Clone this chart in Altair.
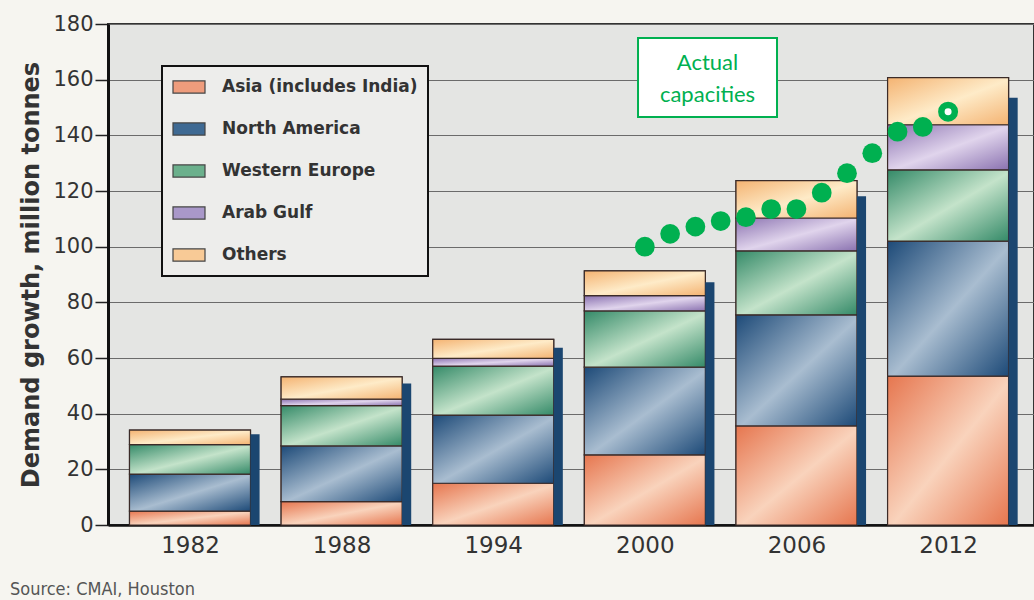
import altair as alt
import pandas as pd

# Demand growth by region, million tonnes
years = [1982, 1988, 1994, 2000, 2006, 2012]
asia = [5.0, 8.4, 15.0, 25.2, 35.6, 53.5]
north_america = [13.3, 20.0, 24.5, 31.5, 39.9, 48.5]
western_europe = [10.6, 14.5, 17.6, 20.2, 23.0, 25.6]
arab_gulf = [0.0, 2.3, 2.8, 5.5, 11.8, 16.2]
others = [5.2, 8.0, 6.8, 8.9, 13.4, 16.9]

regions = ["Asia (includes India)", "North America", "Western Europe", "Arab Gulf", "Others"]
series = [asia, north_america, western_europe, arab_gulf, others]

# Actual capacities, million tonnes (last point shown open)
cap_years = [2000, 2001, 2002, 2003, 2004, 2005, 2006, 2007, 2008, 2009, 2010, 2011, 2012]
cap_values = [100.0, 104.6, 107.2, 109.2, 110.6, 113.5, 113.5, 119.4, 126.4, 133.6, 141.3, 143.0, 148.5]

source_note = "Source: CMAI, Houston"

# --- styles ---
flat_colors = ["#ee9c7c", "#3f6a93", "#6bb08c", "#a998c9", "#f8ca96"]
shades = {
    "Asia (includes India)": ("#e6764f", "#f9d3bc"),
    "North America": ("#1d4a78", "#a9bdd0"),
    "Western Europe": ("#348a68", "#c4e3ca"),
    "Arab Gulf": ("#8a72b0", "#e0d4ec"),
    "Others": ("#f4b372", "#feebc8"),
}
outline = "#3b2b28"
half_bar = 2.394      # half bar width, in years
shadow_w = 0.36       # drop shadow width, in years
green = "#00b050"

rows = []
for r_i, (name, vals) in enumerate(zip(regions, series)):
    for y, v in zip(years, vals):
        rows.append({"year": y, "region": name, "order": r_i, "value": v})
df = pd.DataFrame(rows)
cap_df = pd.DataFrame({"year": cap_years, "capacity": cap_values})

x_scale = alt.Scale(domain=[1978.755, 2015.4], nice=False, zero=False)
y_scale = alt.Scale(domain=[0, 180], nice=False)

base = (
    alt.Chart(df)
    .transform_stack(stack="value", groupby=["year"], sort=[alt.SortField("order")], as_=["y0", "y1"])
    .transform_calculate(xl=f"datum.year - {half_bar}", xr=f"datum.year + {half_bar}")
    .transform_filter("datum.value > 0")
)

flat = base.mark_bar(stroke=outline, strokeWidth=1.2).encode(
    x=alt.X("xl:Q", scale=x_scale,
            axis=alt.Axis(values=years, format="d", title=None, grid=False, ticks=False,
                          labelFontSize=23, labelPadding=9, labelFont="DejaVu Sans",
                          labelColor="#333333", domainColor="#111111", domainWidth=2.5)),
    x2="xr:Q",
    y=alt.Y("y0:Q", scale=y_scale,
            axis=alt.Axis(values=list(range(0, 181, 20)), title="Demand growth, million tonnes",
                          grid=True, gridColor="#6b6b6b", gridWidth=1.2,
                          tickSize=13, tickWidth=1.5, tickColor="#222222",
                          labelFontSize=21, labelFont="DejaVu Sans", labelColor="#333333",
                          labelPadding=2, domainColor="#111111", domainWidth=3,
                          titleFont="DejaVu Sans", titleFontSize=24, titleFontWeight="bold",
                          titleColor="#333333", titlePadding=9)),
    y2="y1:Q",
    color=alt.Color("region:N", scale=alt.Scale(domain=regions, range=flat_colors),
                    legend=alt.Legend(title=None, orient="none", legendX=54, legendY=42)),
)

gradient_layers = []
for name in regions:
    dark, light = shades[name]
    grad = alt.LinearGradient(
        gradient="linear",
        stops=[alt.GradientStop(color=dark, offset=0),
               alt.GradientStop(color=light, offset=0.52),
               alt.GradientStop(color=dark, offset=1)],
        x1=0, y1=0, x2=1, y2=1,
    )
    gradient_layers.append(
        base.transform_filter(alt.datum.region == name)
        .mark_bar(fill=grad, stroke=outline, strokeWidth=1.2)
        .encode(x="xl:Q", x2="xr:Q", y="y0:Q", y2="y1:Q")
    )

shadow = (
    alt.Chart(df)
    .transform_aggregate(total="sum(value)", groupby=["year"])
    .transform_calculate(
        top="datum.total * 0.955",
        sx=f"datum.year + {half_bar}",
        sx2=f"datum.year + {half_bar + shadow_w}",
    )
    .mark_rect(color="#1b4670")
    .encode(x="sx:Q", x2="sx2:Q", y=alt.Y("top:Q"), y2=alt.datum(0))
)

dots = (
    alt.Chart(cap_df)
    .transform_filter("datum.year < 2012")
    .mark_circle(color=green, opacity=1, size=390)
    .encode(x="year:Q", y="capacity:Q")
)
ring = (
    alt.Chart(cap_df)
    .transform_filter("datum.year == 2012")
    .mark_point(shape="circle", fill="white", filled=False, stroke=green,
                strokeWidth=6.5, size=182, opacity=1)
    .encode(x="year:Q", y="capacity:Q")
)

note_df = pd.DataFrame({"x1": [1999.73], "x2": [2005.23], "y1": [146.6], "y2": [175.0],
                        "xm": [2002.48], "ym": [166.0], "label": ["Actual\ncapacities"]})
note_box = alt.Chart(note_df).mark_rect(fill="white", stroke=green, strokeWidth=2).encode(
    x="x1:Q", x2="x2:Q", y="y1:Q", y2="y2:Q")
note_text = alt.Chart(note_df).mark_text(
    color=green, font="Lato", fontSize=22, lineBreak="\n", lineHeight=32,
    align="center", baseline="middle").encode(x="xm:Q", y="ym:Q", text="label:N")

source = alt.Chart(pd.DataFrame({"t": [source_note]})).mark_text(
    align="left", baseline="middle", font="Liberation Sans Narrow, DejaVu Sans Condensed, sans-serif",
    fontSize=18, color="#555555").encode(x=alt.value(-98), y=alt.value(566), text="t:N")

chart = (
    alt.layer(flat, *gradient_layers, shadow, dots, ring, note_box, note_text, source)
    .properties(width=926, height=501,
                autosize=alt.AutoSizeParams(type="none"),
                padding={"left": 108, "top": 24, "right": 0, "bottom": 75},
                background="#f6f5f0")
    .configure_view(fill="#e4e5e3", stroke="#333333", strokeWidth=2)
    .configure_legend(
        padding=10, fillColor="#ededeb", strokeColor="#111111", strokeWidth=2,
        labelFont="DejaVu Sans", labelFontSize=17, labelFontWeight="bold", labelColor="#333333",
        labelOffset=16, labelLimit=320, symbolType="M-1,-0.38H1V0.38H-1Z", symbolSize=1024,
        symbolStrokeColor="#444444", symbolStrokeWidth=1.2, symbolOpacity=1,
        clipHeight=22, rowPadding=20,
    )
)

chart.save("out.html", embed_options={"renderer": "svg", "actions": False})
